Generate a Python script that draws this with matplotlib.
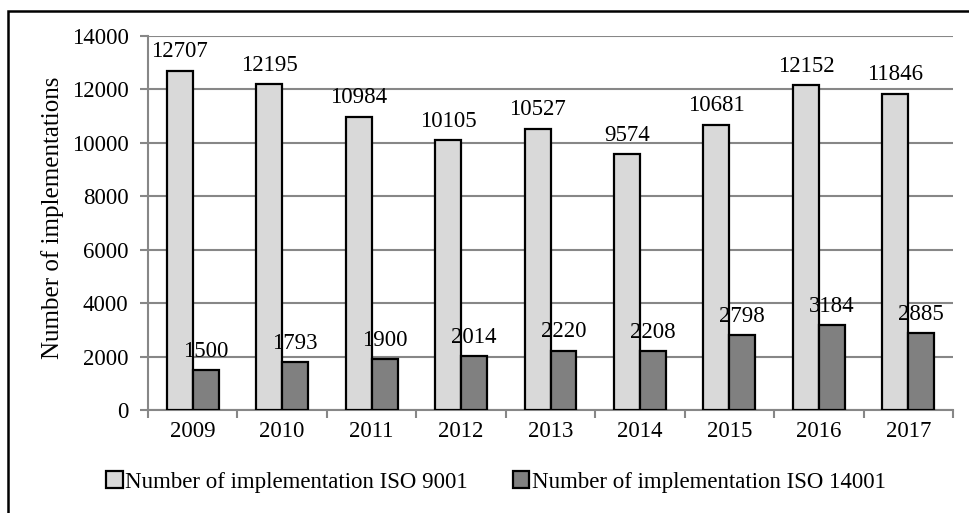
import matplotlib
matplotlib.use("Agg")
import matplotlib.pyplot as plt
import numpy as np
from matplotlib.patches import Rectangle

years = ["2009", "2010", "2011", "2012", "2013", "2014", "2015", "2016", "2017"]
iso9001 = [12707, 12195, 10984, 10105, 10527, 9574, 10681, 12152, 11846]
iso14001 = [1500, 1793, 1900, 2014, 2220, 2208, 2798, 3184, 2885]
series_names = ["Number of implementation ISO 9001", "Number of implementation ISO 14001"]
yticks = [0, 2000, 4000, 6000, 8000, 10000, 12000, 14000]

plt.rcParams['font.family'] = ['Liberation Serif', 'DejaVu Serif']
FS = 16.5

fig = plt.figure(figsize=(9.7, 5.13), dpi=100)
# outer frame
fig.patches.append(Rectangle((8/970, -0.1), 1.2, 1 - 11/513 + 0.1, transform=fig.transFigure,
                             fill=False, edgecolor='black', linewidth=1.8, zorder=0))

ax = fig.add_axes([148/970, 1 - 410/513, (953-148)/970, (410-36)/513])
x = np.arange(len(years))
w = 0.29
grid_c = '#878787'
ax.bar(x - w/2, iso9001, w, color='#d9d9d9', edgecolor='black', linewidth=1.6, label=series_names[0], zorder=3)
ax.bar(x + w/2, iso14001, w, color='#808080', edgecolor='black', linewidth=1.6, label=series_names[1], zorder=3)

for xi, v in zip(x, iso9001):
    ax.annotate(str(v), (xi - w/2, v), xytext=(0, 6), textcoords='offset points',
                ha='center', va='bottom', fontsize=FS)
for xi, v in zip(x, iso14001):
    ax.annotate(str(v), (xi + w/2, v), xytext=(0, 6), textcoords='offset points',
                ha='center', va='bottom', fontsize=FS)

ax.set_xlim(-0.5, len(years) - 0.5)
ax.set_ylim(0, 14000)
ax.set_yticks(yticks)
ax.set_yticklabels([str(t) for t in yticks], fontsize=FS)
ax.set_xticks(x)
ax.set_xticklabels(years, fontsize=FS)
ax.set_xticks(np.arange(-0.5, len(years), 1), minor=True)
ax.tick_params(axis='x', which='major', length=0, pad=8)
ax.tick_params(axis='x', which='minor', length=6, width=1.5, color=grid_c, direction='out')
ax.tick_params(axis='y', length=6, width=1.5, color=grid_c, direction='out', pad=8)
ax.grid(axis='y', color=grid_c, linewidth=1.5, zorder=0)
ax.set_axisbelow(True)
for s in ['top', 'right']:
    ax.spines[s].set_visible(False)
for s in ['left', 'bottom']:
    ax.spines[s].set_color(grid_c)
    ax.spines[s].set_linewidth(1.5)

fig.text(53/970, 1 - 218/513, "Number of implementations", rotation=90, ha='center', va='center', fontsize=18)

leg = fig.legend(loc='center', bbox_to_anchor=(496/970, 1 - 482/513), ncol=2, frameon=False,
                 fontsize=FS, handlelength=0.7, handleheight=0.7, handletextpad=0.1, columnspacing=2.0)

fig.savefig("out.png", dpi=100)
